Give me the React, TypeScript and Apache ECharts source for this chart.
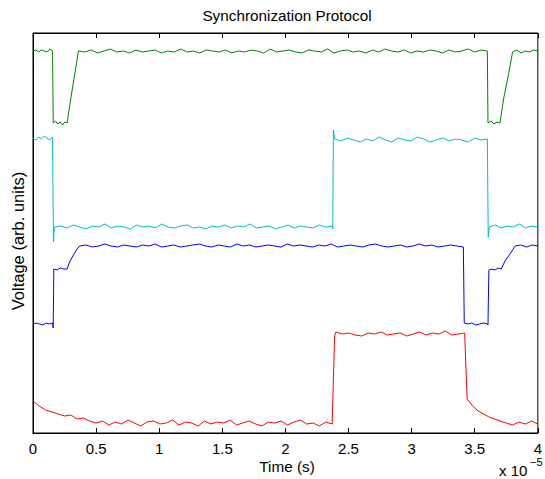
import React, { useEffect, useRef } from "react";
import * as echarts from "echarts";

// Time axis in units of 1e-5 s; voltage in arbitrary units (0..400)
type Seg = [number, number, number[]];

const xTickLabels = ["0", "0.5", "1", "1.5", "2", "2.5", "3", "3.5", "4"];

const greenSegs: Seg[] = [
  [0, 0.155, [382, 383, 381, 383, 382, 381, 384, 382]],
  [0.16, 0.27, [310, 312, 309, 311, 308, 311, 310]],
  [0.3, 0.33, [335, 358]],
  [0.36, 3.6, [
    382, 381, 383, 380, 382, 384, 381, 382, 380, 383,
    381, 382, 383, 380, 382, 381, 384, 381, 382, 380,
    383, 382, 381, 383, 380, 382, 381, 383, 382, 380,
    384, 381, 382, 383, 381, 380, 383, 382, 381, 384,
    380, 382, 383, 381, 382, 380, 383, 381, 384, 382,
    381, 383, 380, 382, 381, 383, 382, 380, 383, 381,
    382, 384, 381, 383, 382,
  ]],
  [3.605, 3.7, [310, 312, 309, 311, 310]],
  [3.73, 3.77, [335, 360]],
  [3.8, 4.0, [381, 383, 380, 382, 381, 383, 382]],
];

const cyanSegs: Seg[] = [
  [0, 0.155, [295, 293, 296, 294, 297, 295, 293, 296]],
  [0.162, 0.162, [191]],
  [0.17, 2.37, [
    206, 207, 205, 208, 206, 204, 207, 206, 209, 205,
    207, 206, 204, 208, 206, 207, 205, 209, 206, 205,
    207, 208, 205, 206, 204, 207, 206, 208, 205, 207,
    206, 209, 205, 206, 207, 204, 206, 208, 205, 207,
    206, 205, 208, 206, 207,
  ]],
  [2.375, 2.375, [204]],
  [2.38, 2.38, [303]],
  [2.39, 3.6, [
    294, 292, 295, 293, 291, 294, 292, 296, 293, 291,
    295, 293, 292, 296, 294, 291, 293, 295, 292, 294,
    293, 291, 295, 293, 294,
  ]],
  [3.607, 3.607, [196]],
  [3.615, 4.0, [206, 208, 205, 207, 206, 209, 205, 207, 206]],
];

const blueSegs: Seg[] = [
  [0, 0.155, [109, 110, 109, 108, 110, 109, 110]],
  [0.16, 0.16, [105]],
  [0.165, 0.27, [164, 163, 165, 164, 164]],
  [0.29, 0.35, [171, 178, 184]],
  [0.37, 3.41, [
    187, 188, 186, 187, 189, 187, 186, 188, 187, 186,
    188, 187, 189, 186, 187, 188, 186, 187, 188, 189,
    187, 186, 188, 187, 186, 189, 187, 188, 186, 187,
    188, 187, 186, 189, 187, 188, 187, 186, 188, 187,
    189, 186, 187, 188, 187, 186, 188, 189, 187, 186,
    187, 188, 186, 187, 189, 187, 188, 186, 187, 188,
    187, 186,
  ]],
  [3.417, 3.6, [110, 109, 110, 108, 109, 110, 109]],
  [3.605, 3.605, [108]],
  [3.612, 3.71, [163, 164, 163, 165, 164]],
  [3.74, 3.79, [172, 181]],
  [3.82, 4.0, [187, 188, 186, 188, 187]],
];

const redSegs: Seg[] = [
  [0, 0.45, [32, 27, 23, 21, 19, 17, 18, 14, 15, 12]],
  [0.5, 2.37, [
    10, 12, 8, 11, 9, 13, 10, 7, 11, 12,
    9, 10, 13, 8, 11, 10, 7, 12, 9, 11,
    10, 13, 8, 10, 12, 9, 7, 11, 10, 12,
    8, 11, 13, 9, 10, 7, 11, 9,
  ]],
  [2.39, 2.39, [97]],
  [2.4, 3.42, [
    101, 99, 100, 98, 97, 100, 99, 101, 98, 99,
    100, 97, 99, 101, 98, 100, 99, 102, 98, 99, 100,
  ]],
  [3.44, 3.7, [34, 27, 22, 19, 16, 14, 12]],
  [3.75, 4.0, [10, 8, 11, 9, 12, 9]],
];

function build(segs: Seg[]): [number, number][] {
  const out: [number, number][] = [];
  for (const [t0, t1, vals] of segs) {
    const n = vals.length;
    vals.forEach((v, i) => {
      out.push([n > 1 ? t0 + ((t1 - t0) * i) / (n - 1) : t0, v]);
    });
  }
  return out;
}

const FONT = '"Liberation Sans", Arial, Helvetica, sans-serif';

const textStyle = (text: string, size: number, align: string) => ({
  text,
  font: `${size}px ${FONT}`,
  fill: "#000",
  align,
  verticalAlign: "middle",
  textAlign: align,
  textVerticalAlign: "middle",
});

export default function App() {
  const ref = useRef<HTMLDivElement>(null);
  useEffect(() => {
    if (!ref.current) return;
    const chart = echarts.init(ref.current, null, { renderer: "svg" });
    const line = (name: string, color: string, segs: Seg[]) => ({
      name,
      type: "line",
      data: build(segs),
      showSymbol: false,
      symbol: "none",
      lineStyle: { color, width: 1 },
      itemStyle: { color },
    });
    const axisCommon = {
      type: "value",
      min: 0,
      max: 4,
      interval: 0.5,
      axisLine: { show: true, lineStyle: { color: "#000", width: 1 } },
      axisTick: { show: true, inside: true, length: 5, lineStyle: { color: "#000" } },
      splitLine: { show: false },
    };
    chart.setOption({
      animation: false,
      backgroundColor: "#fff",
      grid: {
        left: 33,
        right: 5,
        top: 33,
        bottom: 46,
        show: true,
        borderColor: "#000",
        borderWidth: 1,
      },
      xAxis: [
        {
          ...axisCommon,
          position: "bottom",
          axisLabel: {
            fontSize: 15,
            fontFamily: FONT,
            color: "#000",
            margin: 8,
            formatter: (v: number) => xTickLabels[Math.round(v / 0.5)] ?? "",
          },
        },
        {
          ...axisCommon,
          position: "top",
          axisLabel: { show: false },
        },
      ],
      yAxis: {
        type: "value",
        min: 0,
        max: 400,
        axisLine: { show: true, lineStyle: { color: "#000", width: 1 } },
        axisTick: { show: false },
        axisLabel: { show: false },
        splitLine: { show: false },
      },
      series: [
        line("green", "#008000", greenSegs),
        line("cyan", "#00BFBF", cyanSegs),
        line("blue", "#0000FF", blueSegs),
        line("red", "#FF0000", redSegs),
      ],
      graphic: [
        { type: "text", x: 287, y: 15, style: textStyle("Synchronization Protocol", 15.3, "center") },
        { type: "text", x: 287, y: 466, style: textStyle("Time (s)", 15.3, "center") },
        {
          type: "text",
          x: 18,
          y: 241,
          rotation: Math.PI / 2,
          style: textStyle("Voltage (arb. units)", 16.5, "center"),
        },
        { type: "text", x: 499, y: 470, style: textStyle("x 10", 15, "left") },
        { type: "text", x: 530, y: 462, style: textStyle("\u22125", 11, "left") },
      ],
    });
    return () => chart.dispose();
  }, []);
  return (
    <div
      ref={ref}
      style={{ position: "absolute", left: 0, top: 0, width: 545, height: 479 }}
    />
  );
}
